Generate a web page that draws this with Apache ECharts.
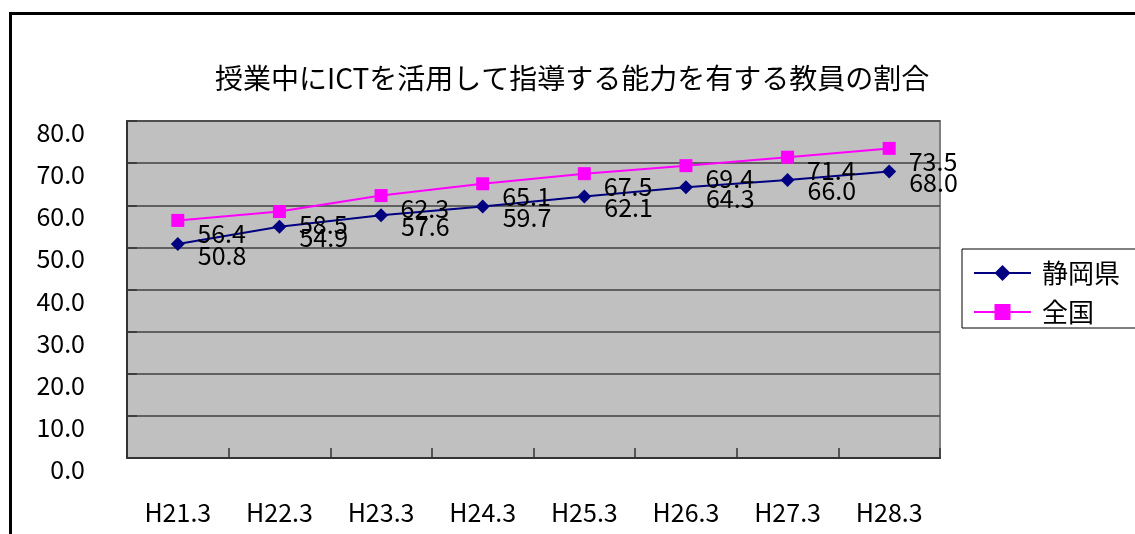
<!DOCTYPE html>
<html>
<head>
<meta charset="utf-8">
<script src="https://cdn.jsdelivr.net/npm/echarts@6/dist/echarts.min.js"></script>
<style>html,body{margin:0;padding:0;background:#fff}#c{width:1135px;height:534px}</style>
</head>
<body>
<div id="c"></div>
<script>
const categories = ['H21.3','H22.3','H23.3','H24.3','H25.3','H26.3','H27.3','H28.3'];
const shizuoka = [50.8, 54.9, 57.6, 59.7, 62.1, 64.3, 66.0, 68.0];
const zenkoku = [56.4, 58.5, 62.3, 65.1, 67.5, 69.4, 71.4, 73.5];
const seriesNames = ['静岡県', '全国'];
const titleText = '授業中にICTを活用して指導する能力を有する教員の割合';

const FONT = "'Noto Sans CJK JP', sans-serif";
const chart = echarts.init(document.getElementById('c'));
chart.setOption({
  animation: false,
  backgroundColor: '#fff',
  textStyle: { fontFamily: FONT },
  graphic: [{
    type: 'rect', shape: { x: 10.5, y: 13.5, width: 1300, height: 700 },
    style: { fill: 'none', stroke: '#000', lineWidth: 3 }, silent: true
  }],
  title: {
    text: titleText, left: 210, top: 55,
    textStyle: { fontFamily: FONT, fontSize: 28, fontWeight: 'normal', color: '#000', lineHeight: 36 }
  },
  legend: {
    orient: 'vertical', left: 962, top: 249,
    padding: [11, 40, 3, 11], itemGap: 13,
    itemWidth: 57, itemHeight: 20,
    borderColor: '#000', borderWidth: 1, backgroundColor: '#fff',
    textStyle: { fontFamily: FONT, fontSize: 26, color: '#000', padding: [0,0,0,6], lineHeight: 26 },
    data: seriesNames
  },
  grid: {
    left: 127, top: 121, right: 195, bottom: 76, containLabel: false,
    show: true, backgroundColor: '#C0C0C0', borderColor: '#808080', borderWidth: 2
  },
  xAxis: {
    type: 'category', data: categories, boundaryGap: true,
    axisLine: { show: true, lineStyle: { color: '#333', width: 2 } },
    axisTick: { show: true, inside: true, length: 10, alignWithLabel: false, lineStyle: { color: '#333', width: 1.5 } },
    axisLabel: { fontFamily: FONT, fontSize: 25, color: '#000', margin: 42, interval: 0 }
  },
  yAxis: {
    type: 'value', min: 0, max: 80, interval: 10,
    axisLine: { show: true, lineStyle: { color: '#333', width: 2 } },
    axisTick: { show: true, inside: true, length: 10, lineStyle: { color: '#333', width: 1.5 } },
    splitLine: { show: true, lineStyle: { color: '#404040', width: 1.5 } },
    axisLabel: { fontFamily: FONT, fontSize: 25, color: '#000', margin: 42, verticalAlign: 'top', lineHeight: 23,
      formatter: v => v.toFixed(1) }
  },
  series: [{
    name: seriesNames[0], type: 'line', data: shizuoka,
    symbol: 'diamond', symbolSize: 14,
    lineStyle: { color: '#000080', width: 2 },
    itemStyle: { color: '#000080' },
    label: { show: true, position: 'right', offset: [8, 11], fontFamily: FONT, fontSize: 25, color: '#000',
      formatter: p => p.value.toFixed(1) }
  }, {
    name: seriesNames[1], type: 'line', data: zenkoku,
    symbol: 'rect', symbolSize: 13,
    lineStyle: { color: '#FF00FF', width: 2 },
    itemStyle: { color: '#FF00FF' },
    label: { show: true, position: 'right', offset: [8, 13], fontFamily: FONT, fontSize: 25, color: '#000',
      formatter: p => p.value.toFixed(1) }
  }]
});
</script>
</body>
</html>
